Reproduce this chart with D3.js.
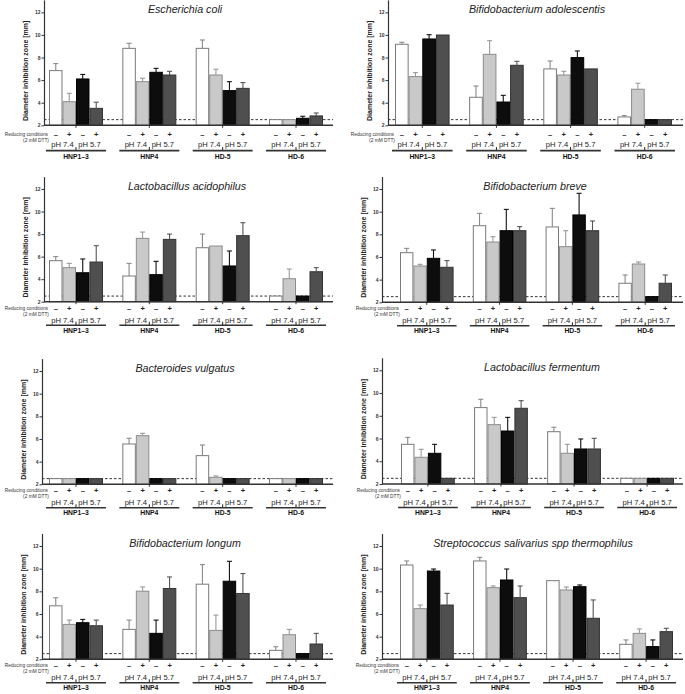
<!DOCTYPE html>
<html><head><meta charset="utf-8">
<script src="https://cdn.jsdelivr.net/npm/d3@7"></script>
<style>body{margin:0;background:#fff}svg{display:block}text{font-family:"Liberation Sans",Arial,sans-serif}</style>
</head><body><svg id="c" width="685" height="694"></svg>
<script>
// ---------- data ----------
const groups = ["HNP1–3", "HNP4", "HD-5", "HD-6"];
const conditions = ["pH 7.4 –", "pH 7.4 +", "pH 5.7 –", "pH 5.7 +"];
const signs = ["–", "+", "–", "+"];
const phLabels = ["pH 7.4", "pH 5.7"];
const yTicks = [2, 4, 6, 8, 10, 12];
const detectionLimit = 2.5;
const titles = ["Escherichia coli", "Bifidobacterium adolescentis", "Lactobacillus acidophilus",
  "Bifidobacterium breve", "Bacteroides vulgatus", "Lactobacillus fermentum",
  "Bifidobacterium longum", "Streptococcus salivarius spp thermophilus"];

// values: 4 groups x 4 conditions (HNP1–3, HNP4, HD-5, HD-6)
const meansEcoli = [6.84,4.09,6.10,3.50, 8.81,5.86,6.69,6.45, 8.81,6.45,5.07,5.27, 2.5,2.5,2.62,2.83];
const errEcoli   = [0.62,0.74,0.40,0.54, 0.45,0.30,0.35,0.33, 0.74,0.51,0.79,0.51, 0,0,0.18,0.26];
const meansAdol  = [9.17,6.31,9.64,9.99, 4.48,8.28,4.06,7.31, 6.99,6.45,7.99,6.99, 2.74,5.19,2.5,2.5];
const errAdol    = [0.18,0.35,0.38,0, 1.00,1.21,0.59,0.35, 0.70,0.33,0.59,0, 0.12,0.53,0,0];
const meansAcid  = [5.64,5.02,4.57,5.52, 4.28,7.62,4.40,7.53, 6.79,6.94,5.17,7.86, 2.5,4.04,2.5,4.66];
const errAcid    = [0.36,0.38,1.22,1.45, 1.12,0.56,1.18,0.47, 1.21,0,1.33,1.15, 0,0.86,0,0.36];
const meansBreve = [6.38,5.20,5.88,5.09, 8.76,7.32,8.32,8.32, 8.65,6.91,9.71,8.32, 3.68,5.38,2.5,3.68];
const errBreve   = [0.38,0.15,0.74,0.59, 1.09,0.47,1.88,0.36, 1.64,1.41,1.91,0.86, 0.73,0.18,0,0.73];
const meansVulg  = [2.5,2.5,2.5,2.5, 5.56,6.29,2.5,2.5, 4.53,2.62,2.5,2.5, 2.5,2.5,2.5,2.5];
const errVulg    = [0,0,0,0, 0.50,0.21,0,0, 0.94,0.12,0,0, 0,0,0,0];
const meansFerm  = [5.49,4.35,4.70,2.5, 8.72,7.22,6.66,8.66, 6.60,4.70,5.08,5.08, 2.5,2.5,2.5,2.5];
const errFerm    = [0.61,0.70,0.79,0, 0.73,0.64,1.20,0.67, 0.39,0.79,0.88,0.94, 0,0,0,0];
const meansLong  = [6.72,5.08,5.23,4.96, 4.64,8.01,4.29,8.25, 8.63,4.55,8.89,7.81, 2.79,4.17,2.5,3.35];
const errLong    = [0.71,0.38,0.29,0.50, 0.82,0.38,1.17,1.02, 1.73,1.35,1.76,1.76, 0.32,0.47,0,0.94];
const meansStrep = [10.32,6.47,9.79,6.79, 10.68,8.32,9.00,7.44, 8.94,8.12,8.41,5.62, 3.32,4.29,3.12,4.44];
const errStrep   = [0.36,0.32,0.18,1.03, 0.32,0.15,0.97,1.03, 0,0.26,0.15,1.62, 0.39,0.39,0.59,0.30];

const seriesMeans = [meansEcoli, meansAdol, meansAcid, meansBreve, meansVulg, meansFerm, meansLong, meansStrep];
const seriesErrs  = [errEcoli, errAdol, errAcid, errBreve, errVulg, errFerm, errLong, errStrep];

// ---------- layout ----------
const layout = [
  {axisX:44,  x0:49,  x1:323, xEnd:333, base:125.3, top:12.3, off:[9,19.5,25.3,31.3], titleX:185},
  {axisX:388, x0:395, x1:672, xEnd:683, base:125.3, top:12.3, off:[9,19.5,25.3,31.3], titleX:537},
  {axisX:44,  x0:49,  x1:323, xEnd:333, base:301.7, top:189,  off:[6.5,18.5,23.5,28.5], titleX:187},
  {axisX:382, x0:400, x1:672, xEnd:683, base:302.3, top:189,  off:[6.5,18.5,23.5,28.5], titleX:535},
  {axisX:42,  x0:49,  x1:323, xEnd:333, base:484.3, top:371,  off:[6.5,18.5,23.5,28.5], titleX:185},
  {axisX:382, x0:401, x1:674, xEnd:683, base:484,   top:370.3,off:[6.5,18.5,23.5,28.5], titleX:542},
  {axisX:42,  x0:49,  x1:323, xEnd:333, base:659.3, top:546,  off:[6.5,18.5,23.5,28.5], titleX:185},
  {axisX:382, x0:400, x1:673, xEnd:683, base:659.3, top:546,  off:[6.5,18.5,23.5,28.5], titleX:533}
];
const fills   = ["#ffffff", "#c9c9c9", "#0d0d0d", "#4f4f4f"];
const strokes = ["#7a7a7a", "#8c8c8c", "#000000", "#333333"];
const errCols = ["#8a8a8a", "#9a9a9a", "#111111", "#555555"];

const svg = d3.select("#c");

layout.forEach((L, pi) => {
  const g = svg.append("g");
  const means = seriesMeans[pi], errs = seriesErrs[pi];
  const data = means.map((m, i) => ({group: groups[Math.floor(i/4)], cond: conditions[i%4], ci: i%4, m, e: errs[i]}));
  const ppu = (L.base - L.top) / 10;
  const y = d3.scaleLinear().domain([2, 13.1]).range([L.base, L.base - 11.1*ppu]);
  const xg = d3.scaleBand().domain(groups).range([L.x0, L.x1]).paddingInner(0.264).paddingOuter(0);
  const xc = d3.scaleBand().domain(conditions).range([0, xg.bandwidth()]).padding(0);

  // dashed detection limit
  g.append("line").attr("x1", L.axisX).attr("x2", L.xEnd)
    .attr("y1", y(detectionLimit)).attr("y2", y(detectionLimit))
    .attr("stroke", "#333").attr("stroke-width", 1).attr("stroke-dasharray", "2.5,2");

  const bars = g.append("g");
  bars.selectAll("rect").data(data).join("rect")
    .attr("x", d => xg(d.group) + xc(d.cond) + 0.5)
    .attr("width", xc.bandwidth() - 1)
    .attr("y", d => y(d.m))
    .attr("height", d => y(2) - y(d.m))
    .attr("fill", d => fills[d.ci]).attr("stroke", d => strokes[d.ci]).attr("stroke-width", 1);

  const eb = g.append("g").selectAll("g").data(data.filter(d => d.e > 0)).join("g")
    .attr("stroke", d => errCols[d.ci]).attr("stroke-width", 1.1);
  eb.append("line")
    .attr("x1", d => xg(d.group) + xc(d.cond) + xc.bandwidth()/2)
    .attr("x2", d => xg(d.group) + xc(d.cond) + xc.bandwidth()/2)
    .attr("y1", d => y(d.m)).attr("y2", d => y(d.m + d.e));
  eb.append("line")
    .attr("x1", d => xg(d.group) + xc(d.cond) + xc.bandwidth()/2 - 2.5)
    .attr("x2", d => xg(d.group) + xc(d.cond) + xc.bandwidth()/2 + 2.5)
    .attr("y1", d => y(d.m + d.e)).attr("y2", d => y(d.m + d.e));

  // x axis line
  g.append("line").attr("x1", L.axisX).attr("x2", L.xEnd).attr("y1", L.base).attr("y2", L.base)
    .attr("stroke", "#333").attr("stroke-width", 1.4);
  g.selectAll(".gt").data(groups).join("line")
    .attr("x1", d => xg(d) + xg.bandwidth()/2).attr("x2", d => xg(d) + xg.bandwidth()/2)
    .attr("y1", L.base).attr("y2", L.base + 2.5).attr("stroke", "#333").attr("stroke-width", 1);

  // y axis
  const ya = g.append("g").attr("transform", `translate(${L.axisX},0)`)
    .call(d3.axisLeft(y).tickValues(yTicks).tickSize(2.5).tickSizeOuter(0).tickFormat(d3.format("d")));
  ya.select(".domain").attr("stroke", "#333").attr("stroke-width", 1.2);
  ya.selectAll(".tick line").attr("stroke", "#333");
  ya.selectAll(".tick text").attr("font-size", 5).attr("font-weight", "bold").attr("fill", "#333")
    .attr("font-family", "Liberation Sans, Arial, sans-serif").attr("x", -3.5);

  // y label
  g.append("text").attr("transform", `translate(${L.axisX - 19},${(L.base + L.top)/2 + 2}) rotate(-90)`)
    .attr("text-anchor", "middle").attr("dominant-baseline", "central")
    .attr("font-size", 7).attr("font-weight", "bold").attr("fill", "#222")
    .text("Diameter inhibition zone [mm]");

  // title
  g.append("text").attr("x", L.titleX).attr("y", L.top + 0.8).attr("text-anchor", "middle")
    .attr("font-size", 10.7).attr("font-style", "italic").attr("fill", "#222").text(titles[pi]);

  // reducing conditions label
  g.append("text").attr("x", L.x0 - 1).attr("y", L.base + L.off[0]).attr("text-anchor", "end")
    .attr("dominant-baseline", "central").attr("font-size", 4.8).attr("fill", "#333").text("Reducing conditions");
  g.append("text").attr("x", L.x0 - 13).attr("y", L.base + L.off[0] + 6).attr("text-anchor", "middle")
    .attr("dominant-baseline", "central").attr("font-size", 4.8).attr("fill", "#333").text("(2 mM DTT)");

  // -/+ signs
  g.selectAll(".sg").data(data).join("text")
    .attr("x", d => xg(d.group) + xc(d.cond) + xc.bandwidth()/2)
    .attr("y", L.base + L.off[0]).attr("text-anchor", "middle").attr("dominant-baseline", "central")
    .attr("font-size", 7.5).attr("font-weight", "bold").attr("fill", "#222").text(d => signs[d.ci]);

  // pH labels, underline, group names
  groups.forEach(gr => {
    const gx = xg(gr), bw = xg.bandwidth();
    phLabels.forEach((p, k) => {
      g.append("text").attr("x", gx + xc(conditions[2*k]) + xc.bandwidth()).attr("y", L.base + L.off[1])
        .attr("text-anchor", "middle").attr("dominant-baseline", "central")
        .attr("font-size", 7.6).attr("fill", "#222").text(p);
    });
    g.append("line").attr("x1", gx + bw/2).attr("x2", gx + bw/2)
      .attr("y1", L.base + L.off[2] - 3.5).attr("y2", L.base + L.off[2])
      .attr("stroke", "#222").attr("stroke-width", 1);
    g.append("line").attr("x1", gx - 3).attr("x2", gx + bw + 3)
      .attr("y1", L.base + L.off[2]).attr("y2", L.base + L.off[2])
      .attr("stroke", "#333").attr("stroke-width", 1.6);
    g.append("text").attr("x", gx + bw/2).attr("y", L.base + L.off[3])
      .attr("text-anchor", "middle").attr("dominant-baseline", "central")
      .attr("font-size", 6.8).attr("font-weight", "bold").attr("fill", "#111").text(gr);
  });
});
</script></body></html>
